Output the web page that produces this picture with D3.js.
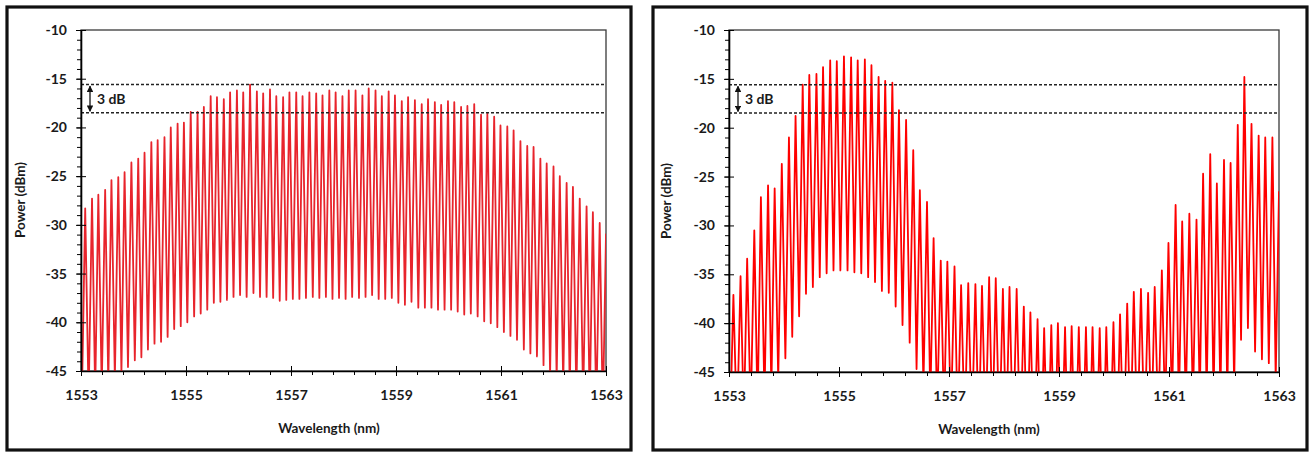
<!DOCTYPE html>
<html>
<head>
<meta charset="utf-8">
<script src="https://cdn.jsdelivr.net/npm/d3@7/dist/d3.min.js"></script>
<style>
    body { margin: 0; background: #fff; }
    text { font-family: Lato, "Open Sans", sans-serif; font-weight: bold; fill: #1a1a1a; }
</style>
</head>
<body>
<div id="chart"></div>
<script>
// comb line wavelengths (nm), same grid in both spectra
var combNm = [
    1553.08, 1553.21, 1553.33, 1553.46, 1553.58, 1553.71, 1553.83, 1553.96, 1554.09, 1554.21,
    1554.34, 1554.46, 1554.59, 1554.71, 1554.84, 1554.96, 1555.09, 1555.22, 1555.34, 1555.47,
    1555.59, 1555.72, 1555.84, 1555.97, 1556.09, 1556.22, 1556.35, 1556.47, 1556.60, 1556.72,
    1556.85, 1556.97, 1557.10, 1557.22, 1557.35, 1557.48, 1557.60, 1557.73, 1557.85, 1557.98,
    1558.10, 1558.23, 1558.36, 1558.48, 1558.61, 1558.73, 1558.86, 1558.98, 1559.11, 1559.23,
    1559.36, 1559.49, 1559.61, 1559.74, 1559.86, 1559.99, 1560.11, 1560.24, 1560.36, 1560.49,
    1560.62, 1560.74, 1560.87, 1560.99, 1561.12, 1561.24, 1561.37, 1561.50, 1561.62, 1561.75,
    1561.87, 1562.00, 1562.12, 1562.25, 1562.37, 1562.50, 1562.63, 1562.75, 1562.88, 1563.00
];

// left spectrum: peak of each line and the minimum just before it (dBm)
var peaksA = [
    -28.3, -27.3, -26.9, -26.4, -25.4, -25.1, -24.6, -23.6, -23.2, -22.6,
    -21.5, -21.3, -21.0, -20.0, -19.6, -19.5, -18.4, -18.4, -17.9, -16.8,
    -16.9, -17.1, -16.4, -16.2, -16.4, -15.6, -16.3, -16.5, -16.1, -16.8,
    -16.9, -16.4, -16.4, -16.8, -16.4, -16.5, -16.7, -16.2, -16.4, -16.8,
    -16.2, -16.2, -16.7, -16.0, -16.2, -16.8, -16.3, -16.7, -17.3, -16.9,
    -17.2, -17.6, -17.1, -17.4, -17.7, -17.3, -17.4, -17.9, -17.8, -17.6,
    -18.7, -18.6, -18.9, -19.8, -19.9, -20.3, -21.4, -21.9, -22.0, -23.2,
    -23.7, -24.0, -25.0, -25.7, -26.1, -27.3, -28.1, -28.7, -29.8, -30.9
];
var troughsA = [
    -48.5, -48.0, -47.4, -46.9, -46.3, -45.8, -45.2, -44.6, -43.9, -43.6,
    -42.8, -42.2, -42.0, -41.5, -40.7, -40.4, -40.0, -39.4, -39.1, -38.7,
    -38.0, -37.9, -37.7, -37.4, -37.2, -37.4, -37.0, -37.4, -37.4, -37.5,
    -37.8, -37.7, -37.6, -37.6, -37.5, -37.4, -37.5, -37.4, -37.6, -37.5,
    -37.6, -37.4, -37.5, -37.4, -37.2, -37.6, -37.6, -37.5, -38.0, -38.2,
    -37.9, -38.5, -38.5, -38.5, -38.7, -38.7, -38.7, -38.9, -39.2, -39.1,
    -39.4, -39.9, -40.1, -40.5, -41.0, -41.4, -41.8, -42.8, -43.2, -43.5,
    -44.4, -45.3, -45.9, -46.4, -47.0, -47.5, -48.0, -48.6, -49.0, -49.5
];

// right spectrum
var peaksB = [
    -37.1, -35.2, -33.4, -30.5, -27.1, -25.9, -26.2, -23.7, -21.0, -18.8,
    -15.6, -14.6, -14.5, -13.8, -13.1, -13.2, -12.7, -12.8, -13.1, -13.0,
    -13.6, -14.8, -15.2, -15.4, -18.2, -19.2, -22.3, -26.4, -27.6, -31.3,
    -33.6, -33.7, -34.2, -36.1, -35.9, -36.0, -36.2, -35.3, -35.4, -36.5,
    -36.3, -36.5, -38.3, -38.9, -39.6, -40.5, -40.2, -40.0, -40.4, -40.3,
    -40.4, -40.4, -40.4, -40.5, -40.4, -39.9, -39.1, -38.0, -36.8, -36.5,
    -36.9, -36.3, -34.6, -31.8, -27.9, -29.6, -28.8, -29.4, -24.7, -22.7,
    -25.7, -23.3, -23.6, -19.7, -14.8, -19.6, -20.8, -21.0, -21.0, -26.5
];
var troughsB = [
    -52.0, -51.0, -50.0, -49.5, -49.0, -48.0, -47.0, -45.8, -43.6, -41.4,
    -39.3, -37.0, -36.3, -35.3, -34.9, -34.6, -34.6, -34.6, -34.8, -34.9,
    -35.3, -35.8, -36.7, -36.9, -38.3, -40.2, -42.0, -44.7, -46.5, -48.0,
    -49.0, -49.5, -50.0, -51.0, -51.0, -51.5, -52.0, -51.5, -51.5, -52.0,
    -52.0, -52.5, -53.0, -54.0, -54.5, -55.0, -55.0, -55.0, -55.0, -55.0,
    -55.0, -55.0, -55.0, -55.0, -55.0, -54.5, -54.0, -53.0, -52.0, -52.0,
    -52.0, -51.5, -50.5, -49.5, -48.5, -48.5, -48.5, -48.5, -48.0, -47.5,
    -48.0, -47.5, -47.5, -46.5, -41.7, -40.5, -42.9, -43.7, -44.1, -45.8
];

var yTicks = [-10, -15, -20, -25, -30, -35, -40, -45];
var xTicks = [1553, 1555, 1557, 1559, 1561, 1563];
var band3dB = [-15.6, -18.5];   // dashed reference lines

var svg = d3.select("#chart").append("svg")
    .attr("width", 1316)
    .attr("height", 453);

svg.append("defs").append("marker")
    .attr("id", "arrowhead")
    .attr("viewBox", "0 0 10 10")
    .attr("refX", 9).attr("refY", 5)
    .attr("markerWidth", 5).attr("markerHeight", 5)
    .attr("orient", "auto-start-reverse")
    .append("path")
    .attr("d", "M0,0 L10,5 L0,10 z")
    .attr("fill", "#111");

function drawPanel(p, peaks, troughs) {
    // outer frame
    svg.append("rect")
        .attr("x", p.frame[0]).attr("y", p.frame[1])
        .attr("width", p.frame[2]).attr("height", p.frame[3])
        .attr("fill", "none").attr("stroke", "#111").attr("stroke-width", 3.2);

    var w = p.right - p.left, h = p.bottom - p.top;
    var g = svg.append("g").attr("transform", "translate(" + p.left + "," + p.top + ")");

    var x = d3.scaleLinear().domain([1553, 1563]).range([0, w]);
    var y = d3.scaleLinear().domain([-45, -10]).range([h, 0]);

    g.append("clipPath").attr("id", p.id + "-clip")
        .append("rect").attr("width", w).attr("height", h);

    // plot area border
    g.append("rect").attr("width", w).attr("height", h)
        .attr("fill", "none").attr("stroke", "#3a3a3a").attr("stroke-width", 1.3);

    // spectrum: a minimum then a peak for every comb line
    var pts = [];
    combNm.forEach(function(nm, i) {
        var prev = i === 0 ? nm - (combNm[1] - combNm[0]) : combNm[i - 1];
        pts.push([(prev + nm) / 2, troughs[i]]);
        pts.push([nm, peaks[i]]);
    });
    var line = d3.line()
        .x(function(d) { return x(d[0]); })
        .y(function(d) { return y(d[1]); });
    g.append("path")
        .datum(pts)
        .attr("clip-path", "url(#" + p.id + "-clip)")
        .attr("fill", "none")
        .attr("stroke", p.color)
        .attr("stroke-width", p.lineWidth)
        .attr("stroke-linejoin", "round")
        .attr("d", line);

    // 3 dB band
    band3dB.forEach(function(v) {
        g.append("line")
            .attr("x1", 0).attr("x2", w)
            .attr("y1", y(v)).attr("y2", y(v))
            .attr("stroke", "#222").attr("stroke-width", 1.5)
            .attr("stroke-dasharray", "3,2");
    });
    g.append("line")
        .attr("x1", 9).attr("x2", 9)
        .attr("y1", y(band3dB[0]) + 1.5).attr("y2", y(band3dB[1]) - 1.5)
        .attr("stroke", "#111").attr("stroke-width", 1.3)
        .attr("marker-start", "url(#arrowhead)")
        .attr("marker-end", "url(#arrowhead)");
    g.append("text")
        .attr("x", 16).attr("y", (y(band3dB[0]) + y(band3dB[1])) / 2 + 5)
        .style("font-size", "14px")
        .text("3 dB");

    // y axis: major ticks cross the axis, minor ticks outside
    g.append("g")
        .call(d3.axisLeft(y).tickValues(d3.range(-45, -9, 1)).tickSize(4).tickFormat(""))
        .call(function(a) { a.select(".domain").remove(); });
    var ya = g.append("g")
        .call(d3.axisLeft(y).tickValues(yTicks).tickSize(5).tickPadding(9).tickSizeOuter(0)
            .tickFormat(function(d) { return d; }));
    ya.selectAll(".tick line").attr("x1", 5);
    ya.select(".domain").attr("stroke-width", 1.6);
    ya.selectAll("text").style("font-size", "14px").attr("font-family", null);

    // x axis
    g.append("g")
        .attr("transform", "translate(0," + h + ")")
        .call(d3.axisBottom(x).tickValues(d3.range(1553, 1563.01, 0.4)).tickSize(4).tickFormat(""))
        .call(function(a) { a.select(".domain").remove(); });
    var xa = g.append("g")
        .attr("transform", "translate(0," + h + ")")
        .call(d3.axisBottom(x).tickValues(xTicks).tickSize(5).tickPadding(14).tickSizeOuter(0)
            .tickFormat(d3.format("d")));
    xa.selectAll(".tick line").attr("y1", -5);
    xa.select(".domain").attr("stroke-width", 1.6);
    xa.selectAll("text").style("font-size", "14px").attr("font-family", null);

    // axis titles
    svg.append("text")
        .attr("x", p.xTitle[0]).attr("y", p.xTitle[1])
        .attr("text-anchor", "middle")
        .style("font-size", "13.5px")
        .text("Wavelength (nm)");
    svg.append("text")
        .attr("transform", "translate(" + p.yTitle[0] + "," + p.yTitle[1] + ") rotate(-90)")
        .attr("text-anchor", "middle")
        .style("font-size", "13.5px")
        .text("Power (dBm)");
}

drawPanel({
    id: "left", frame: [7, 7, 624, 443],
    left: 81, right: 606, top: 30, bottom: 371,
    xTitle: [329, 433], yTitle: [25, 200],
    color: "#e8242c", lineWidth: 1.8
}, peaksA, troughsA);

drawPanel({
    id: "right", frame: [653, 7, 654, 443],
    left: 729, right: 1279, top: 30, bottom: 372,
    xTitle: [989, 434], yTitle: [671, 201],
    color: "#ff0000", lineWidth: 1.8
}, peaksB, troughsB);
</script>
</body>
</html>
